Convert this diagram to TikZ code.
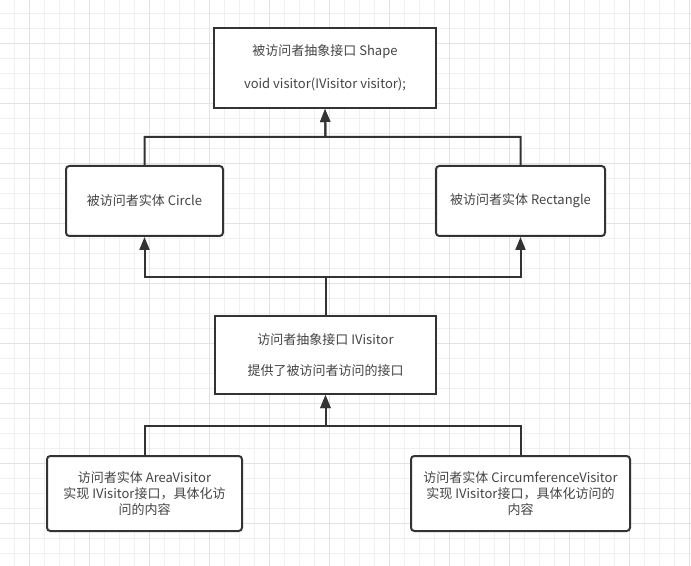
\documentclass[tikz,border=0pt]{standalone}
\usepackage{fontspec}
\setmainfont{Noto Sans CJK SC}
\usetikzlibrary{arrows.meta}
\definecolor{gridminor}{HTML}{F0F0F0}
\definecolor{gridmajor}{HTML}{E2E2E2}
\definecolor{linecol}{HTML}{333333}
\definecolor{textcol}{HTML}{444444}
\begin{document}
\begin{tikzpicture}
  [x=0.75pt,y=-0.75pt,line width=1.5pt,
   every node/.style={draw=linecol,fill=white,text=textcol,align=center,inner sep=0pt,
     font=\fontsize{9.75}{12}\selectfont}]
  \tikzstyle{iface} = [rectangle,minimum height=60pt]
  \tikzstyle{concrete} = [rectangle,rounded corners=2.5pt,minimum height=52.5pt]
  \tikzstyle{visitorbox} = [rectangle,rounded corners=2.5pt,minimum height=56.25pt]
  \tikzstyle{link} = [draw=linecol,line width=1.5pt,-{Triangle[width=7.5pt,length=9.75pt]}]
  \useasboundingbox (0,0) rectangle (691,566);
  % background grid
  \foreach \gx in {0,...,45}
   \draw[gridminor,line width=0.75pt] (14.3+15*\gx,0) -- (14.3+15*\gx,566);
  \foreach \gy in {0,...,36}
   \draw[gridminor,line width=0.75pt] (0,13.3+15*\gy) -- (691,13.3+15*\gy);
  \foreach \gx in {0,...,11}
   \draw[gridmajor,line width=0.75pt] (29.3+60*\gx,0) -- (29.3+60*\gx,566);
  \foreach \gy in {0,...,8}
   \draw[gridmajor,line width=0.75pt] (0,43.3+60*\gy) -- (691,43.3+60*\gy);
  % boxes
  \node[iface,minimum width=166.5pt] (shape) at (325,68)
    {被访问者抽象接口 Shape\\[12.75pt]void visitor(IVisitor visitor);};
  \node[concrete,minimum width=117.75pt] (circle) at (144.5,201) {被访问者实体 Circle};
  \node[concrete,minimum width=126.75pt] (rect) at (520.5,201) {被访问者实体 Rectangle};
  \node[iface,minimum width=165.75pt,minimum height=58.5pt] (ivisitor) at (325.5,355)
    {访问者抽象接口 IVisitor\\[11.25pt]提供了被访问者访问的接口};
  \node[visitorbox,minimum width=146.25pt] (area) at (144.5,493.5)
    {访问者实体 AreaVisitor\\实现 IVisitor接口，具体化访\\问的内容};
  \node[visitorbox,minimum width=164.25pt] (circum) at (520.5,493.5)
    {访问者实体 CircumferenceVisitor\\实现 IVisitor接口，具体化访问的\\内容};
  \coordinate (jtop) at (325.5,137);
  \coordinate (jmid) at (325.5,277);
  \coordinate (jbot) at (325.5,426);
  % connectors
  \foreach \source /\dest /\joint in {circle/shape/jtop,rect/shape/jtop,area/ivisitor/jbot,circum/ivisitor/jbot}
   \draw[link] (\source.north) |- (\joint) -- (\dest.south);
  \foreach \source /\dest /\joint in {ivisitor/circle/jmid,ivisitor/rect/jmid}
   \draw[link] (\source.north) -- (\joint) -| (\dest.south);
\end{tikzpicture}
\end{document}
